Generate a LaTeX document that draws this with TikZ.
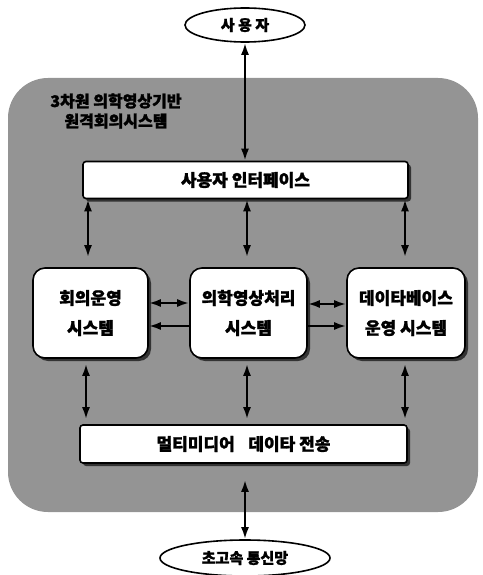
\documentclass[tikz,border=0pt]{standalone}
\usepackage{fontspec}
\setmainfont{Noto Sans CJK KR}[BoldFeatures={FakeBold=1.5}]
\usetikzlibrary{shapes.geometric,arrows.meta,shadows}
\tikzset{
  tip/.tip={Latex[length=12pt,width=8pt]},
  conn/.style={line width=2.2pt,tip-tip},
  oneway/.style={line width=2.2pt,-tip},
  wide/.style={draw,line width=1.6pt,fill=white,rounded corners=3pt,
    general shadow={fill=black!80,shadow xshift=3pt,shadow yshift=-3pt},
    font=\bfseries\fontsize{17}{19}\selectfont},
  sysbox/.style={draw,line width=1.6pt,fill=white,rounded corners=12pt,
    general shadow={fill=black!80,shadow xshift=3pt,shadow yshift=-3pt},
    minimum height=90pt,align=center,
    font=\bfseries\fontsize{17}{30}\selectfont},
  oval/.style={ellipse,draw,line width=1.6pt,fill=white,
    font=\bfseries\fontsize{15}{17}\selectfont},
}
\begin{document}
\begin{tikzpicture}[x=1pt,y=-1pt]
\useasboundingbox (0,0) rectangle (482,575);
\fill[black!42] (8,78) [rounded corners=40pt] rectangle (478,512);
\node[font=\bfseries\fontsize{16}{20}\selectfont,align=center] (title) at (116,111) {3차원 의학영상기반\\원격회의시스템};
\node[oval,minimum width=120pt,minimum height=34pt] (user) at (245,25) {사 용 자};
\node[wide,minimum width=325pt,minimum height=37pt] (ui) at (245.5,180) {사용자 인터페이스};
\node[sysbox,minimum width=115pt] (conf) at (90.5,313) {회의운영\\시스템};
\node[sysbox,minimum width=117pt] (img) at (248.5,313) {의학영상처리\\시스템};
\node[sysbox,minimum width=118pt] (db) at (406,313) {데이타베이스\\운영 시스템};
\node[wide,minimum width=327pt,minimum height=38pt] (mm) at (243.5,444) {멀티미디어\hspace{0.8em}데이타 전송};
\node[oval,minimum width=170pt,minimum height=36pt] (net) at (245,558) {초고속 통신망};
\draw[conn] (user.south) -- (ui.north -| user.south);
\draw[conn,shorten >=10pt] (ui.south -| 88,0) -- (conf.north -| 88,0);
\draw[conn,shorten >=10pt] (ui.south -| 247,0) -- (img.north -| 247,0);
\draw[conn,shorten >=10pt] (ui.south -| 405,0) -- (db.north -| 405,0);
\draw[conn,shorten <=5pt,shorten >=5pt] (conf.south -| 86,0) -- (mm.north -| 86,0);
\draw[conn,shorten <=5pt,shorten >=5pt] (img.south -| 247,0) -- (mm.north -| 247,0);
\draw[conn,shorten <=5pt,shorten >=5pt] (db.south -| 405,0) -- (mm.north -| 405,0);
\draw[conn,shorten <=16pt] (mm.south -| 245,0) -- (net.north);
\draw[conn] (conf.east |- 0,303) -- (img.west |- 0,303);
\draw[oneway] (img.west |- 0,326) -- (conf.east |- 0,326);
\draw[conn] (img.east |- 0,304) -- (db.west |- 0,304);
\draw[oneway] (img.east |- 0,326) -- (db.west |- 0,326);
\end{tikzpicture}
\end{document}
